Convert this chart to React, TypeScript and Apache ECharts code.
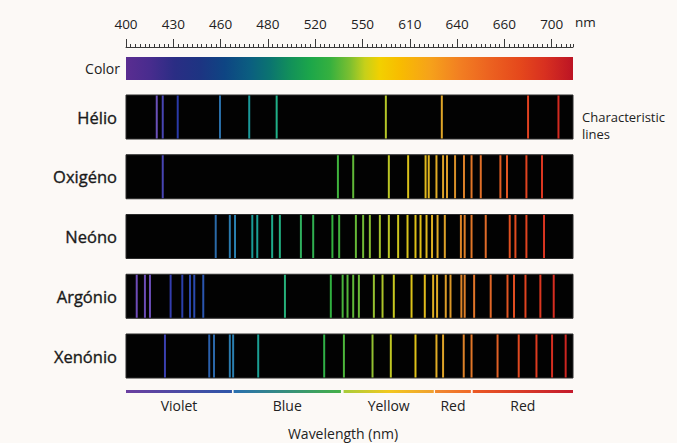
import React, { useEffect, useRef } from "react";
import * as echarts from "echarts";

// ---- data ----
const TICK_LABELS = [400, 430, 460, 480, 520, 550, 610, 640, 660, 700];
const RULER_END_NM = 718;

const ELEMENT_NAMES = ["Hélio", "Oxigéno", "Neóno", "Argónio", "Xenónio"];

const HELIO_LINES = [419.5, 423.3, 432.8, 459.6, 472.1, 487.4, 579.6, 630.3, 680.0, 705.7];
const OXIGENO_LINES = [423.3, 534.4, 544.1, 583.4, 607.9, 620.0, 622.0, 626.9, 631.1, 633.6, 638.7, 642.9, 646.1, 650.0, 658.3, 662.2, 678.6, 691.8];
const NEONO_LINES = [456.9, 463.9, 466.1, 473.4, 475.5, 483.6, 490.1, 507.9, 518.3, 530.9, 535.2, 545.8, 550.8, 559.3, 572.0, 583.4, 595.2, 607.1, 613.6, 616.8, 620.6, 624.1, 627.6, 632.2, 641.6, 643.2, 646.1, 652.1, 664.5, 669.3, 678.6, 693.5];
const ARGONIO_LINES = [406.8, 412.0, 415.2, 428.3, 435.7, 440.6, 443.3, 449.0, 494.4, 529.9, 537.4, 540.5, 544.1, 547.7, 564.4, 575.4, 589.7, 611.1, 619.5, 624.8, 627.3, 632.8, 635.8, 641.8, 643.2, 647.2, 654.2, 662.6, 668.1, 677.8, 690.4, 701.7];
const XENONIO_LINES = [424.7, 452.8, 455.8, 463.9, 465.3, 475.9, 525.7, 538.2, 562.7, 585.9, 613.6, 626.9, 631.1, 642.8, 646.1, 657.1, 672.1, 687.1, 700.3, 711.8];

const BAND_NAMES = ["Violet", "Blue", "Yellow", "Red", "Red"];
const BAND_START = [400, 465.5, 538, 626, 646.6];
const BAND_END = [464.8, 536.3, 625.2, 645.8, 718];

// ---- styles ----
const FONT = "'Open Sans', 'Noto Sans', sans-serif";
const TEXT = "#222";
const LINE_COLOR_STOPS: [number, string][] = [
  [400, "#7048b8"], [419.5, "#6a50b8"], [424.7, "#3a40b0"], [433, "#2a3aa8"],
  [447, "#2a50b0"], [457, "#2a6aa8"], [466, "#2a80b0"], [472.5, "#1a9a98"],
  [487.4, "#20b088"], [507, "#30b060"], [530, "#30b040"], [544, "#60b838"],
  [565, "#98c030"], [590, "#c8c820"], [616, "#e0c018"], [629, "#e0a828"],
  [638.5, "#d89028"], [645.3, "#e07828"], [653.7, "#e06828"], [664.5, "#e05020"],
  [681.4, "#e04020"], [698.3, "#d83020"], [718, "#c82020"],
];
const BAR_COLOR_STOPS: [number, string][] = [
  [400, "#5a2d91"], [415.2, "#482c8e"], [431, "#2a2d84"], [447, "#1d3482"],
  [461.8, "#0e4583"], [472.4, "#0b5e80"], [481.7, "#0b7470"], [498.6, "#12905a"],
  [515.5, "#1ca64a"], [529.3, "#35b03f"], [542, "#7cbf30"], [553, "#c6d01a"],
  [572, "#f2d000"], [597.4, "#f8bc00"], [622.7, "#f6a21a"], [641, "#f27f22"],
  [653.7, "#ec6220"], [673.1, "#e5481c"], [694.2, "#d83020"], [718, "#bc1424"],
];
const BAND_GRADIENTS: string[][] = [
  ["#6b3fa0", "#2e56a8"],
  ["#2a6fb0", "#44b048"],
  ["#a8cc3a", "#f2c81e", "#f0a030"],
  ["#f08a30", "#f06a28"],
  ["#ec5a24", "#c41a2c"],
];

function nmToPos(nm: number): number {
  const t = TICK_LABELS;
  for (let i = 0; i < t.length - 1; i++) {
    if (nm <= t[i + 1]) return i + (nm - t[i]) / (t[i + 1] - t[i]);
  }
  const last = t.length - 1;
  return last + (nm - t[last]) / (t[last] - t[last - 1]);
}
const AXIS_MAX = nmToPos(RULER_END_NM);

function hex(c: string) {
  return [1, 3, 5].map((k) => parseInt(c.slice(k, k + 2), 16));
}
function colorAt(nm: number, stops: [number, string][]) {
  if (nm <= stops[0][0]) return stops[0][1];
  for (let i = 0; i < stops.length - 1; i++) {
    const [a, ca] = stops[i];
    const [b, cb] = stops[i + 1];
    if (nm <= b) {
      const f = (nm - a) / (b - a);
      const A = hex(ca), B = hex(cb);
      const r = A.map((v, k) => Math.round(v + (B[k] - v) * f));
      return `rgb(${r[0]},${r[1]},${r[2]})`;
    }
  }
  return stops[stops.length - 1][1];
}

export default function App() {
  const ref = useRef<HTMLDivElement>(null);
  useEffect(() => {
    document.body.style.margin = "0";
    document.body.style.background = "#fcf9f6";
    const chart = echarts.init(ref.current!, null, { renderer: "svg" });

    const LEFT = 126;
    const WIDTH = 447;
    const ROW_TOP0 = 95;
    const ROW_STEP = 59.75;
    const ROW_H = 44;

    const grids: any[] = [];
    const xAxes: any[] = [];
    const yAxes: any[] = [];
    const series: any[] = [];

    // grid 0: colour bar + fine ruler
    grids.push({
      left: LEFT, top: 57, width: WIDTH, height: 23, show: true, borderWidth: 0,
      backgroundColor: {
        type: "linear", x: 0, y: 0, x2: 1, y2: 0,
        colorStops: BAR_COLOR_STOPS.map(([nm, c]) => ({ offset: nmToPos(nm) / AXIS_MAX, color: c })),
      },
    });
    xAxes.push({
      gridIndex: 0, type: "value", position: "top", offset: 10, min: 0, max: AXIS_MAX, interval: 0.1,
      axisLine: { show: true, onZero: false, lineStyle: { color: "#3a3a3a", width: 1 } },
      axisTick: { show: true, length: 3, lineStyle: { color: "#3a3a3a", width: 1 } },
      axisLabel: { show: false }, splitLine: { show: false },
    });
    yAxes.push({
      gridIndex: 0, type: "category", data: ["Color"],
      axisLine: { show: false }, axisTick: { show: false },
      axisLabel: { fontSize: 14, color: TEXT, margin: 6, fontFamily: FONT },
    });

    // grid 1: major ruler ticks with labels
    grids.push({ left: LEFT, top: 57, width: (WIDTH * (TICK_LABELS.length - 1)) / AXIS_MAX, height: 23, show: false });
    xAxes.push({
      gridIndex: 1, type: "value", position: "top", offset: 10, min: 0, max: TICK_LABELS.length - 1, interval: 1,
      axisLine: { show: false, onZero: false },
      axisTick: { show: true, length: 8, lineStyle: { color: "#3a3a3a", width: 1 } },
      axisLabel: {
        margin: 16, fontSize: 13.5, color: TEXT, fontFamily: FONT,
        formatter: (v: number) => String(TICK_LABELS[Math.round(v)] ?? ""),
      },
      splitLine: { show: false },
    });
    yAxes.push({ gridIndex: 1, type: "value", min: 0, max: 1, show: false });

    // spectrum rows
    const ROWS = [HELIO_LINES, OXIGENO_LINES, NEONO_LINES, ARGONIO_LINES, XENONIO_LINES];
    ROWS.forEach((lines, i) => {
      const gi = grids.length;
      grids.push({
        left: LEFT, width: WIDTH, top: ROW_TOP0 + i * ROW_STEP, height: ROW_H,
        show: true, backgroundColor: "#020202", borderColor: "#2a2a2a", borderWidth: 1,
      });
      xAxes.push({ gridIndex: gi, type: "value", min: 0, max: AXIS_MAX, show: false });
      yAxes.push({
        gridIndex: gi, type: "category", data: [ELEMENT_NAMES[i]],
        axisLine: { show: false }, axisTick: { show: false },
        axisLabel: {
          fontSize: 16.5, fontWeight: 400, color: "#1a1a1a", margin: 9, fontFamily: FONT,
          textBorderColor: "#1a1a1a", textBorderWidth: 0.35,
        },
      });
      series.push({
        type: "custom", xAxisIndex: gi, yAxisIndex: gi,
        data: lines.map((nm) => [nmToPos(nm), 0, nm]),
        encode: { x: 0, y: 1 },
        renderItem: (params: any, api: any) => {
          const x = api.coord([api.value(0), 0])[0];
          const cs = params.coordSys;
          return {
            type: "line",
            shape: { x1: x, y1: cs.y + 0.5, x2: x, y2: cs.y + cs.height - 0.5 },
            style: { stroke: colorAt(api.value(2), LINE_COLOR_STOPS), lineWidth: 2 },
          };
        },
      });
    });

    // bottom colour bands
    const bgi = grids.length;
    grids.push({ left: LEFT, width: WIDTH, top: 390, height: 3, show: false });
    xAxes.push({ gridIndex: bgi, type: "value", min: 0, max: AXIS_MAX, show: false });
    yAxes.push({ gridIndex: bgi, type: "value", min: 0, max: 1, show: false });
    series.push({
      type: "custom", xAxisIndex: bgi, yAxisIndex: bgi, clip: false,
      data: BAND_START.map((s, i) => [nmToPos(s), nmToPos(BAND_END[i]), i]),
      encode: { x: [0, 1] },
      renderItem: (params: any, api: any) => {
        const i = api.value(2);
        const x1 = api.coord([api.value(0), 0])[0];
        const x2 = api.coord([api.value(1), 0])[0];
        const cs = params.coordSys;
        const cols = BAND_GRADIENTS[i];
        return {
          type: "group",
          children: [
            {
              type: "rect",
              shape: { x: x1, y: cs.y, width: x2 - x1, height: cs.height },
              style: {
                fill: new echarts.graphic.LinearGradient(0, 0, 1, 0,
                  cols.map((c, k) => ({ offset: k / (cols.length - 1), color: c }))),
              },
            },
            {
              type: "text", x: (x1 + x2) / 2, y: cs.y + 15,
              style: {
                text: BAND_NAMES[i], align: "center", verticalAlign: "middle",
                fontSize: 14, fontFamily: FONT, fill: TEXT,
              },
            },
          ],
        };
      },
    });

    chart.setOption({
      animation: false,
      backgroundColor: "#fcf9f6",
      grid: grids,
      xAxis: xAxes,
      yAxis: yAxes,
      series,
      graphic: [
        { type: "text", left: 575, top: 15, style: { text: "nm", fontSize: 13.5, fontFamily: FONT, fill: TEXT } },
        {
          type: "text", x: 582, y: 117,
          style: { text: "Characteristic", fontSize: 13, fontFamily: FONT, fill: TEXT, verticalAlign: "middle" },
        },
        {
          type: "text", x: 582, y: 134,
          style: { text: "lines", fontSize: 13, fontFamily: FONT, fill: TEXT, verticalAlign: "middle" },
        },
        {
          type: "text", x: 343, y: 433,
          style: { text: "Wavelength (nm)", fontSize: 14, fontFamily: FONT, fill: TEXT, align: "center", verticalAlign: "middle" },
        },
      ],
    });
    return () => chart.dispose();
  }, []);
  return <div ref={ref} style={{ width: 677, height: 443 }} />;
}
